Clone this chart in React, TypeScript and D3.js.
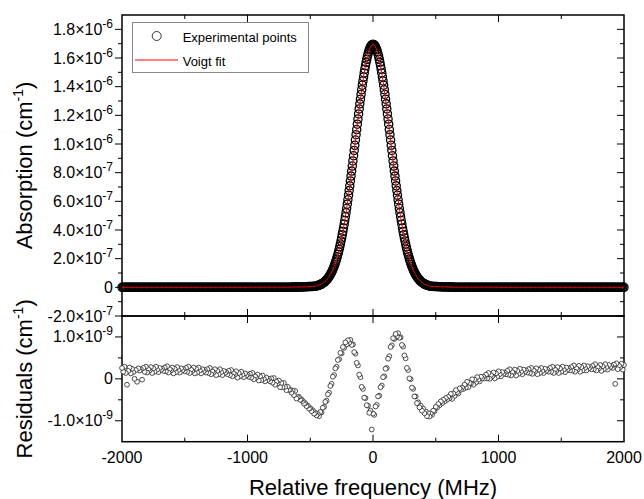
import React from 'react';
import * as d3 from 'd3';

// absorption spectrum, frequency in MHz, value in 1e-7 cm^-1
const absFreq = [
  -2000, -1990, -1980, -1970, -1960, -1950, -1940, -1930, -1920, -1910,
  -1900, -1890, -1880, -1870, -1860, -1850, -1840, -1830, -1820, -1810,
  -1800, -1790, -1780, -1770, -1760, -1750, -1740, -1730, -1720, -1710,
  -1700, -1690, -1680, -1670, -1660, -1650, -1640, -1630, -1620, -1610,
  -1600, -1590, -1580, -1570, -1560, -1550, -1540, -1530, -1520, -1510,
  -1500, -1490, -1480, -1470, -1460, -1450, -1440, -1430, -1420, -1410,
  -1400, -1390, -1380, -1370, -1360, -1350, -1340, -1330, -1320, -1310,
  -1300, -1290, -1280, -1270, -1260, -1250, -1240, -1230, -1220, -1210,
  -1200, -1190, -1180, -1170, -1160, -1150, -1140, -1130, -1120, -1110,
  -1100, -1090, -1080, -1070, -1060, -1050, -1040, -1030, -1020, -1010,
  -1000, -990, -980, -970, -960, -950, -940, -930, -920, -910,
  -900, -890, -880, -870, -860, -850, -840, -830, -820, -810,
  -800, -790, -780, -770, -760, -750, -740, -730, -720, -710,
  -700, -690, -680, -670, -660, -650, -640, -630, -620, -610,
  -600, -590, -580, -570, -560, -550, -540, -530, -520, -510,
  -500, -490, -480, -470, -460,
  -450, -445, -440, -435, -430, -425, -420, -415, -410, -405,
  -400, -395, -390, -385, -380, -375, -370, -365, -360, -355,
  -350, -345, -340, -335, -330, -325, -320, -315, -310, -305,
  -300, -295, -290, -285, -280, -275, -270, -265, -260, -255,
  -250, -245, -240, -235, -230, -225, -220, -215, -210, -205,
  -200, -195, -190, -185, -180, -175, -170, -165, -160, -155,
  -150, -145, -140, -135, -130, -125, -120, -115, -110, -105,
  -100, -95, -90, -85, -80, -75, -70, -65, -60, -55,
  -50, -45, -40, -35, -30, -25, -20, -15, -10, -5,
  0,
  5, 10, 15, 20, 25, 30, 35, 40, 45, 50,
  55, 60, 65, 70, 75, 80, 85, 90, 95, 100,
  105, 110, 115, 120, 125, 130, 135, 140, 145, 150,
  155, 160, 165, 170, 175, 180, 185, 190, 195, 200,
  205, 210, 215, 220, 225, 230, 235, 240, 245, 250,
  255, 260, 265, 270, 275, 280, 285, 290, 295, 300,
  305, 310, 315, 320, 325, 330, 335, 340, 345, 350,
  355, 360, 365, 370, 375, 380, 385, 390, 395, 400,
  405, 410, 415, 420, 425, 430, 435, 440, 445, 450,
  460, 470, 480, 490, 500,
  510, 520, 530, 540, 550, 560, 570, 580, 590, 600,
  610, 620, 630, 640, 650, 660, 670, 680, 690, 700,
  710, 720, 730, 740, 750, 760, 770, 780, 790, 800,
  810, 820, 830, 840, 850, 860, 870, 880, 890, 900,
  910, 920, 930, 940, 950, 960, 970, 980, 990, 1000,
  1010, 1020, 1030, 1040, 1050, 1060, 1070, 1080, 1090, 1100,
  1110, 1120, 1130, 1140, 1150, 1160, 1170, 1180, 1190, 1200,
  1210, 1220, 1230, 1240, 1250, 1260, 1270, 1280, 1290, 1300,
  1310, 1320, 1330, 1340, 1350, 1360, 1370, 1380, 1390, 1400,
  1410, 1420, 1430, 1440, 1450, 1460, 1470, 1480, 1490, 1500,
  1510, 1520, 1530, 1540, 1550, 1560, 1570, 1580, 1590, 1600,
  1610, 1620, 1630, 1640, 1650, 1660, 1670, 1680, 1690, 1700,
  1710, 1720, 1730, 1740, 1750, 1760, 1770, 1780, 1790, 1800,
  1810, 1820, 1830, 1840, 1850, 1860, 1870, 1880, 1890, 1900,
  1910, 1920, 1930, 1940, 1950, 1960, 1970, 1980, 1990, 2000,
];
const absValue = [
  0, 0, 0, 0, 0, 0, 0, 0, 0, 0, 0, 0, 0, 0, 0, 0, 0, 0, 0, 0,
  0, 0, 0, 0, 0, 0, 0, 0, 0, 0, 0, 0, 0, 0, 0, 0, 0, 0, 0, 0,
  0, 0, 0, 0, 0, 0, 0, 0, 0, 0, 0, 0, 0, 0, 0, 0, 0, 0, 0, 0,
  0, 0, 0, 0, 0, 0, 0, 0, 0, 0, 0, 0, 0, 0, 0, 0, 0, 0, 0, 0,
  0, 0, 0, 0, 0, 0, 0, 0, 0, 0, 0, 0, 0, 0, 0, 0, 0, 0, 0, 0,
  0.01, 0.01, 0.01, 0.01, 0.01, 0.01, 0.01, 0.01, 0.01, 0.01,
  0.01, 0.01, 0.01, 0.01, 0.01, 0.01, 0.01, 0.01, 0.01, 0.01,
  0.01, 0.01, 0.01, 0.01, 0.01, 0.01, 0.01, 0.01, 0.01, 0.01,
  0.01, 0.01, 0.01, 0.01, 0.01, 0.01, 0.02, 0.02, 0.02, 0.02,
  0.02, 0.03, 0.03, 0.03, 0.03, 0.03, 0.04, 0.04, 0.04, 0.05,
  0.05, 0.06, 0.06, 0.07, 0.08,
  0.10, 0.11, 0.12, 0.14, 0.15, 0.17, 0.19, 0.21, 0.23, 0.26,
  0.29, 0.32, 0.35, 0.39, 0.43, 0.47, 0.52, 0.57, 0.62, 0.68,
  0.75, 0.81, 0.89, 0.97, 1.05, 1.15, 1.24, 1.35, 1.46, 1.58,
  1.71, 1.84, 1.98, 2.14, 2.29, 2.46, 2.64, 2.83, 3.02, 3.23,
  3.44, 3.67, 3.90, 4.14, 4.40, 4.66, 4.93, 5.21, 5.50, 5.80,
  6.11, 6.43, 6.75, 7.08, 7.42, 7.76, 8.11, 8.46, 8.82, 9.18,
  9.55, 9.91, 10.28, 10.65, 11.01, 11.38, 11.74, 12.10, 12.45, 12.80,
  13.13, 13.46, 13.79, 14.10, 14.40, 14.68, 14.96, 15.22, 15.46, 15.69,
  15.90, 16.10, 16.27, 16.43, 16.57, 16.68, 16.78, 16.85, 16.91, 16.94,
  16.95,
  16.94, 16.91, 16.85, 16.78, 16.68, 16.57, 16.43, 16.27, 16.10, 15.90,
  15.69, 15.46, 15.22, 14.96, 14.68, 14.40, 14.10, 13.79, 13.46, 13.13,
  12.80, 12.45, 12.10, 11.74, 11.38, 11.01, 10.65, 10.28, 9.91, 9.55,
  9.18, 8.82, 8.46, 8.11, 7.76, 7.42, 7.08, 6.75, 6.43, 6.11,
  5.80, 5.50, 5.21, 4.93, 4.66, 4.40, 4.14, 3.90, 3.67, 3.44,
  3.23, 3.02, 2.83, 2.64, 2.46, 2.29, 2.14, 1.98, 1.84, 1.71,
  1.58, 1.46, 1.35, 1.24, 1.15, 1.05, 0.97, 0.89, 0.81, 0.75,
  0.68, 0.62, 0.57, 0.52, 0.47, 0.43, 0.39, 0.35, 0.32, 0.29,
  0.26, 0.23, 0.21, 0.19, 0.17, 0.15, 0.14, 0.12, 0.11, 0.10,
  0.08, 0.07, 0.06, 0.06, 0.05,
  0.05, 0.04, 0.04, 0.04, 0.03, 0.03, 0.03, 0.03, 0.03, 0.02,
  0.02, 0.02, 0.02, 0.02, 0.01, 0.01, 0.01, 0.01, 0.01, 0.01,
  0.01, 0.01, 0.01, 0.01, 0.01, 0.01, 0.01, 0.01, 0.01, 0.01,
  0.01, 0.01, 0.01, 0.01, 0.01, 0.01, 0.01, 0.01, 0.01, 0.01,
  0.01, 0.01, 0.01, 0.01, 0.01, 0.01, 0.01, 0.01, 0.01, 0.01,
  0, 0, 0, 0, 0, 0, 0, 0, 0, 0, 0, 0, 0, 0, 0, 0, 0, 0, 0, 0,
  0, 0, 0, 0, 0, 0, 0, 0, 0, 0, 0, 0, 0, 0, 0, 0, 0, 0, 0, 0,
  0, 0, 0, 0, 0, 0, 0, 0, 0, 0, 0, 0, 0, 0, 0, 0, 0, 0, 0, 0,
  0, 0, 0, 0, 0, 0, 0, 0, 0, 0, 0, 0, 0, 0, 0, 0, 0, 0, 0, 0,
  0, 0, 0, 0, 0, 0, 0, 0, 0, 0, 0, 0, 0, 0, 0, 0, 0, 0, 0, 0,
];

// fit residuals, frequency in MHz, value in 1e-9 cm^-1
const residFreq = [
  -2000, -1990, -1980, -1970, -1960, -1950, -1940, -1930, -1920, -1910,
  -1900, -1890, -1880, -1870, -1860, -1850, -1840, -1830, -1820, -1810,
  -1800, -1790, -1780, -1770, -1760, -1750, -1740, -1730, -1720, -1710,
  -1700, -1690, -1680, -1670, -1660, -1650, -1640, -1630, -1620, -1610,
  -1600, -1590, -1580, -1570, -1560, -1550, -1540, -1530, -1520, -1510,
  -1500, -1490, -1480, -1470, -1460, -1450, -1440, -1430, -1420, -1410,
  -1400, -1390, -1380, -1370, -1360, -1350, -1340, -1330, -1320, -1310,
  -1300, -1290, -1280, -1270, -1260, -1250, -1240, -1230, -1220, -1210,
  -1200, -1190, -1180, -1170, -1160, -1150, -1140, -1130, -1120, -1110,
  -1100, -1090, -1080, -1070, -1060, -1050, -1040, -1030, -1020, -1010,
  -1000, -990, -980, -970, -960, -950, -940, -930, -920, -910,
  -900, -890, -880, -870, -860, -850, -840, -830, -820, -810,
  -800, -790, -780, -770, -760, -750, -740, -730, -720, -710,
  -700, -690, -680, -670, -660, -650, -640, -630, -620, -610,
  -600, -590, -580, -570, -560, -550, -540, -530, -520, -510,
  -500, -490, -480, -470, -460, -450, -440, -430, -420, -410,
  -400, -390, -380, -370, -360, -350, -340, -330, -320, -310,
  -300, -290, -280, -270, -260, -250, -240, -230, -220, -210,
  -200, -190, -180, -170, -160, -150, -140, -130, -120, -110,
  -100, -90, -80, -70, -60, -50, -40, -30, -20, -10,
  0, 10, 20, 30, 40, 50, 60, 70, 80, 90,
  100, 110, 120, 130, 140, 150, 160, 170, 180, 190,
  200, 210, 220, 230, 240, 250, 260, 270, 280, 290,
  300, 310, 320, 330, 340, 350, 360, 370, 380, 390,
  400, 410, 420, 430, 440, 450, 460, 470, 480, 490,
  500, 510, 520, 530, 540, 550, 560, 570, 580, 590,
  600,
  610, 620, 630, 640, 650, 660, 670, 680, 690, 700,
  710, 720, 730, 740, 750, 760, 770, 780, 790, 800,
  810, 820, 830, 840, 850, 860, 870, 880, 890, 900,
  910, 920, 930, 940, 950, 960, 970, 980, 990, 1000,
  1010, 1020, 1030, 1040, 1050, 1060, 1070, 1080, 1090, 1100,
  1110, 1120, 1130, 1140, 1150, 1160, 1170, 1180, 1190, 1200,
  1210, 1220, 1230, 1240, 1250, 1260, 1270, 1280, 1290, 1300,
  1310, 1320, 1330, 1340, 1350, 1360, 1370, 1380, 1390, 1400,
  1410, 1420, 1430, 1440, 1450, 1460, 1470, 1480, 1490, 1500,
  1510, 1520, 1530, 1540, 1550, 1560, 1570, 1580, 1590, 1600,
  1610, 1620, 1630, 1640, 1650, 1660, 1670, 1680, 1690, 1700,
  1710, 1720, 1730, 1740, 1750, 1760, 1770, 1780, 1790, 1800,
  1810, 1820, 1830, 1840, 1850, 1860, 1870, 1880, 1890, 1900,
  1910, 1920, 1930, 1940, 1950, 1960, 1970, 1980, 1990, 2000,
];
const residValue = [
  0.26, 0.17, 0.29, 0.14, -0.14, 0.19, 0.27, 0.13, 0.24, 0.16,
  0.00, 0.21, -0.07, 0.25, 0.20, 0.23, -0.02, 0.26, 0.17, 0.29,
  0.15, 0.23, 0.20, 0.28, 0.14, 0.25, 0.17, 0.29, 0.22, 0.16,
  0.26, 0.21, 0.24, 0.19, 0.27, 0.18, 0.30, 0.15, 0.23, 0.20,
  0.27, 0.13, 0.24, 0.16, 0.28, 0.21, 0.15, 0.25, 0.20, 0.23,
  0.18, 0.26, 0.17, 0.29, 0.14, 0.22, 0.19, 0.27, 0.13, 0.24,
  0.15, 0.27, 0.20, 0.13, 0.23, 0.18, 0.21, 0.15, 0.23, 0.14,
  0.26, 0.11, 0.18, 0.15, 0.23, 0.09, 0.19, 0.11, 0.23, 0.16,
  0.09, 0.19, 0.14, 0.16, 0.11, 0.19, 0.09, 0.21, 0.06, 0.13,
  0.10, 0.18, 0.03, 0.14, 0.06, 0.17, 0.10, 0.04, 0.13, 0.08,
  0.10, 0.05, 0.12, 0.03, 0.14, -0.01, 0.06, 0.03, 0.10, -0.04,
  0.06, -0.03, 0.08, 0.00, -0.06, 0.03, -0.03, 0.00, -0.06, 0.01,
  -0.09, 0.02, -0.14, -0.07, -0.11, -0.04, -0.20, -0.10, -0.20, -0.10,
  -0.19, -0.27, -0.19, -0.26, -0.26, -0.33, -0.28, -0.39, -0.29, -0.47,
  -0.44, -0.43, -0.50, -0.49, -0.53, -0.59, -0.58, -0.65, -0.64, -0.71,
  -0.70, -0.77, -0.75, -0.83, -0.81, -0.87, -0.84, -0.89, -0.79, -0.80,
  -0.69, -0.67, -0.55, -0.52, -0.37, -0.33, -0.17, -0.12, 0.05, 0.09,
  0.25, 0.29, 0.45, 0.47, 0.62, 0.61, 0.76, 0.74, 0.87, 0.82,
  0.92, 0.86, 0.93, 0.81, 0.82, 0.64, 0.60, 0.38, 0.32, 0.10,
  0.04, -0.19, -0.24, -0.45, -0.46, -0.63, -0.64, -0.81, -0.76, -1.21,
  -0.83, -0.86, -0.66, -0.62, -0.42, -0.40, -0.20, -0.16, 0.04, 0.06,
  0.24, 0.26, 0.48, 0.54, 0.76, 0.80, 0.97, 0.95, 1.07, 1.01,
  1.09, 0.98, 0.99, 0.81, 0.77, 0.56, 0.49, 0.26, 0.21, 0.01,
  -0.01, -0.21, -0.24, -0.42, -0.42, -0.58, -0.56, -0.68, -0.64, -0.76,
  -0.71, -0.82, -0.78, -0.89, -0.82, -0.90, -0.83, -0.86, -0.76, -0.77,
  -0.67, -0.69, -0.60, -0.63, -0.54, -0.58, -0.50, -0.54, -0.46, -0.50,
  -0.43,
  -0.46, -0.36, -0.48, -0.35, -0.41, -0.27, -0.32, -0.35, -0.23, -0.26,
  -0.21, -0.24, -0.14, -0.21, -0.07, -0.20, -0.10, -0.11, -0.01, -0.14,
  -0.02, -0.09, 0.04, -0.02, -0.06, 0.05, 0.01, 0.05, 0.01, 0.10,
  0.01, 0.14, 0.00, 0.09, 0.06, 0.15, 0.01, 0.13, 0.05, 0.18,
  0.11, 0.06, 0.16, 0.12, 0.15, 0.11, 0.19, 0.10, 0.23, 0.08,
  0.16, 0.14, 0.22, 0.08, 0.19, 0.12, 0.24, 0.17, 0.11, 0.22,
  0.17, 0.20, 0.15, 0.23, 0.14, 0.26, 0.12, 0.20, 0.17, 0.25,
  0.11, 0.22, 0.14, 0.26, 0.19, 0.14, 0.24, 0.19, 0.22, 0.17,
  0.26, 0.17, 0.29, 0.14, 0.22, 0.19, 0.28, 0.14, 0.25, 0.17,
  0.29, 0.22, 0.16, 0.27, 0.22, 0.25, 0.20, 0.28, 0.20, 0.32,
  0.17, 0.25, 0.22, 0.31, 0.17, 0.28, 0.20, 0.32, 0.26, 0.20,
  0.30, 0.25, 0.28, 0.23, 0.31, 0.23, 0.35, 0.20, 0.28, 0.25,
  0.33, 0.19, 0.30, 0.23, 0.35, 0.28, 0.22, 0.33, 0.28, 0.31,
  0.26, 0.34, -0.12, 0.37, 0.23, 0.31, 0.28, 0.36, 0.22, 0.33,
];

const freqTicks = [-2000, -1000, 0, 1000, 2000];
const freqMinorTicks = [-1500, -500, 500, 1500];
const absTicks = [-2, 0, 2, 4, 6, 8, 10, 12, 14, 16, 18];
const absMinorTicks = [-1, 1, 3, 5, 7, 9, 11, 13, 15, 17];
const absTickLabels = [
  ['-2.0', '-7'], ['0', ''], ['2.0', '-7'], ['4.0', '-7'], ['6.0', '-7'], ['8.0', '-7'],
  ['1.0', '-6'], ['1.2', '-6'], ['1.4', '-6'], ['1.6', '-6'], ['1.8', '-6'],
];
const residTicks = [-1, 0, 1];
const residMinorTicks = [-0.5, 0.5];
const residTickLabels = [['-1.0', '-9'], ['0', ''], ['1.0', '-9']];
const legendLabels = ['Experimental points', 'Voigt fit'];

const FONT = 'Liberation Sans, Arial, sans-serif';

const App = () => {
  const ref = React.useRef<SVGSVGElement>(null);

  React.useEffect(() => {
    const svg = d3.select(ref.current);
    svg.selectAll('*').remove();

    const left = 122, right = 624, top = 15, mid = 316, bottom = 441.7;

    const x = d3.scaleLinear().domain([-2000, 2000]).range([left, right]);
    const yAbs = d3.scaleLinear().domain([-2, 19]).range([mid, top]);
    const yRes = d3.scaleLinear().domain([-1.5, 1.5]).range([bottom, mid]);

    const axes = svg.append('g').attr('stroke', '#000');

    // frames
    axes.append('rect').attr('x', left).attr('y', top).attr('width', right - left).attr('height', mid - top)
      .attr('fill', 'none').attr('stroke-width', 1.5);
    axes.append('rect').attr('x', left).attr('y', mid).attr('width', right - left).attr('height', bottom - mid)
      .attr('fill', 'none').attr('stroke-width', 1.5);

    const tick = (x1: number, y1: number, x2: number, y2: number) =>
      axes.append('line').attr('x1', x1).attr('y1', y1).attr('x2', x2).attr('y2', y2).attr('stroke-width', 1);

    // y ticks: left outward, right inward
    absTicks.forEach(v => { tick(left - 7, yAbs(v), left, yAbs(v)); tick(right - 7, yAbs(v), right, yAbs(v)); });
    absMinorTicks.forEach(v => { tick(left - 4, yAbs(v), left, yAbs(v)); tick(right - 4, yAbs(v), right, yAbs(v)); });
    residTicks.forEach(v => { tick(left - 7, yRes(v), left, yRes(v)); tick(right - 7, yRes(v), right, yRes(v)); });
    residMinorTicks.forEach(v => { tick(left - 4, yRes(v), left, yRes(v)); tick(right - 4, yRes(v), right, yRes(v)); });

    // x ticks, inward on every horizontal axis
    freqTicks.slice(1, -1).forEach(f => {
      tick(x(f), top, x(f), top + 7);
      tick(x(f), mid - 7, x(f), mid + 7);
      tick(x(f), bottom - 7, x(f), bottom);
    });
    freqMinorTicks.forEach(f => {
      tick(x(f), top, x(f), top + 4);
      tick(x(f), mid - 4, x(f), mid + 4);
      tick(x(f), bottom - 4, x(f), bottom);
    });

    const labels = svg.append('g').attr('font-family', FONT).attr('fill', '#000');

    const yLabel = (y: number, lab: string[]) => {
      const t = labels.append('text').attr('x', 113).attr('y', y + 5.5)
        .attr('text-anchor', 'end').attr('font-size', 16);
      t.append('tspan').text(lab[1] ? lab[0] + '×10' : lab[0]);
      if (lab[1]) t.append('tspan').attr('dy', -7).attr('font-size', 12).text(lab[1]);
    };
    absTicks.forEach((v, i) => yLabel(yAbs(v), absTickLabels[i]));
    residTicks.forEach((v, i) => yLabel(yRes(v), residTickLabels[i]));

    freqTicks.forEach(f => {
      labels.append('text').attr('x', x(f)).attr('y', 463).attr('text-anchor', 'middle')
        .attr('font-size', 16).text(String(f));
    });

    // axis titles
    labels.append('text').attr('x', (left + right) / 2).attr('y', 495).attr('text-anchor', 'middle')
      .attr('font-size', 22).text('Relative frequency (MHz)');

    const yTitle = (cy: number, name: string) => {
      const t = labels.append('text').attr('transform', `translate(32,${cy}) rotate(-90)`)
        .attr('text-anchor', 'middle').attr('font-size', 22);
      t.append('tspan').text(name + ' (cm');
      t.append('tspan').attr('dy', -9).attr('font-size', 14).text('-1');
      t.append('tspan').attr('dy', 9).text(')');
    };
    yTitle((top + mid) / 2, 'Absorption');
    yTitle((mid + bottom) / 2, 'Residuals');

    // experimental points, drawn from high to low frequency
    const absPts = absFreq.map((f, i) => [f, absValue[i]]).reverse();
    svg.append('g').selectAll('circle').data(absPts).join('circle')
      .attr('cx', d => x(d[0])).attr('cy', d => yAbs(d[1])).attr('r', 4.1)
      .attr('fill', 'none').attr('stroke', '#000').attr('stroke-width', 1.3);

    // Voigt fit (coincides with the data at this scale)
    const line = d3.line<number>().x((d, i) => x(absFreq[i])).y(d => yAbs(d));
    svg.append('path').attr('d', line(absValue)).attr('fill', 'none')
      .attr('stroke', '#ff0000').attr('stroke-width', 1);

    const resPts = residFreq.map((f, i) => [f, residValue[i]]).reverse();
    svg.append('g').selectAll('circle').data(resPts).join('circle')
      .attr('cx', d => x(d[0])).attr('cy', d => yRes(d[1])).attr('r', 2.4)
      .attr('fill', '#fff').attr('stroke', '#222').attr('stroke-width', 0.8);

    // legend
    const lg = svg.append('g').attr('font-family', FONT);
    lg.append('rect').attr('x', 132.5).attr('y', 22.5).attr('width', 176).attr('height', 50)
      .attr('fill', '#fff').attr('stroke', '#888').attr('stroke-width', 1);
    lg.append('circle').attr('cx', 156.7).attr('cy', 36).attr('r', 4.5)
      .attr('fill', '#fff').attr('stroke', '#333').attr('stroke-width', 1);
    lg.append('line').attr('x1', 135).attr('x2', 178).attr('y1', 60).attr('y2', 60)
      .attr('stroke', '#ff0000').attr('stroke-width', 1);
    legendLabels.forEach((name, i) => {
      lg.append('text').attr('x', 182.7).attr('y', 42 + i * 24).attr('font-size', 13).text(name);
    });
  }, []);

  return (
    <svg ref={ref} width={644} height={499}
      style={{ position: 'absolute', left: 0, top: 0, background: '#fff' }} />
  );
};

export default App;
